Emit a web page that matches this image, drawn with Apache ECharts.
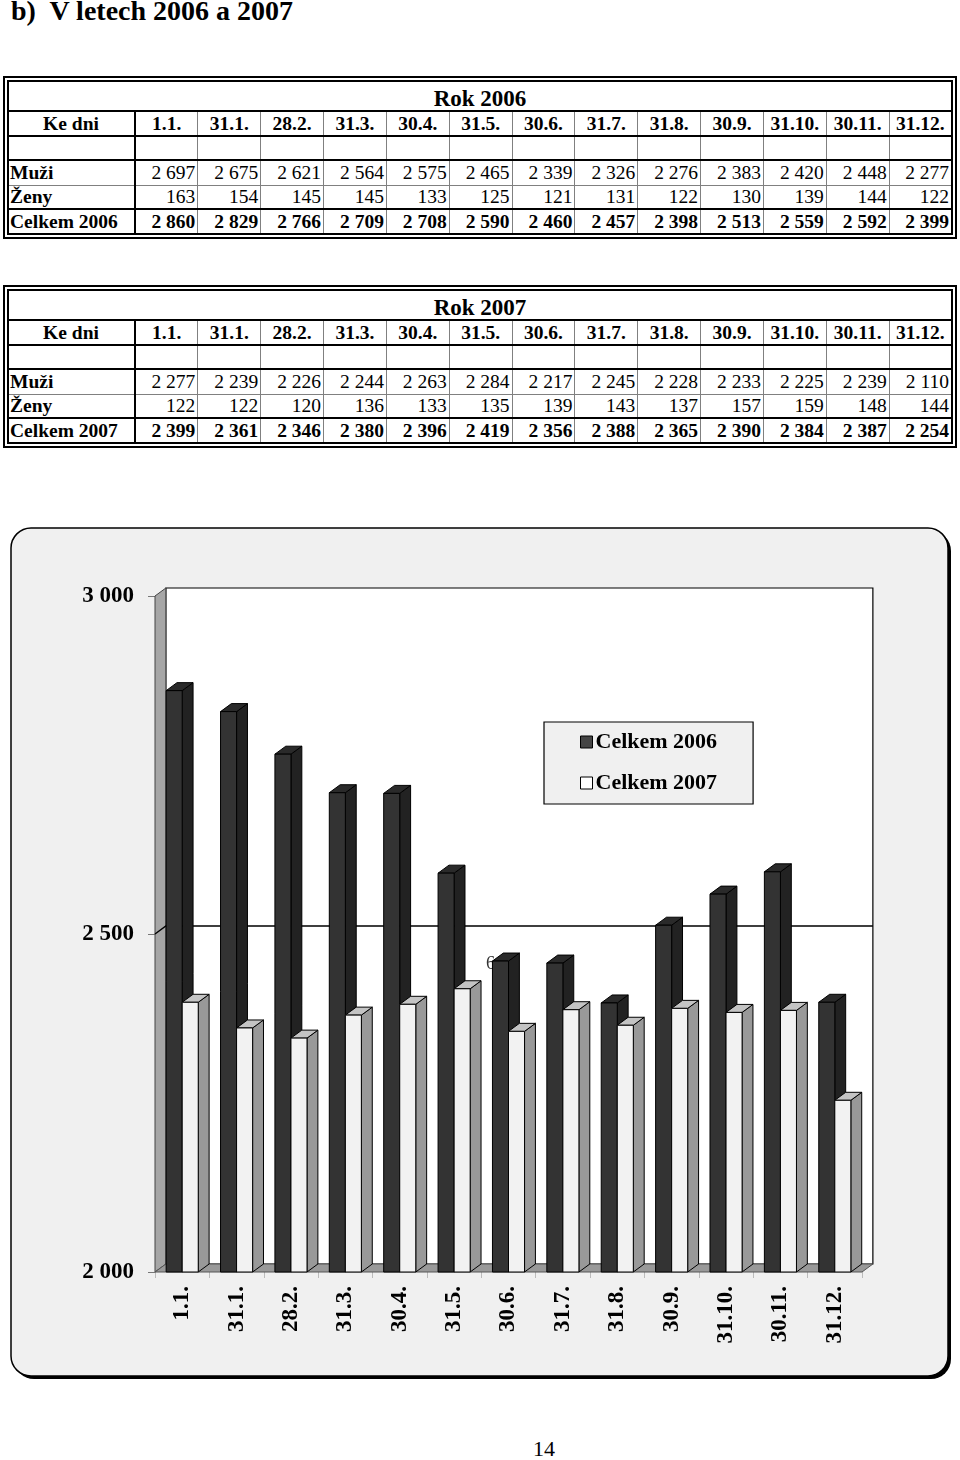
<!DOCTYPE html>
<html>
<head>
<meta charset="utf-8">
<script src="https://cdn.jsdelivr.net/npm/echarts@6/dist/echarts.min.js"></script>
<style>
  html, body { margin: 0; padding: 0; background: #fff; }
  body { width: 960px; height: 1460px; position: relative; overflow: hidden; font-family: "Liberation Serif", "Times New Roman", serif; }
  .heading { position: absolute; left: 11px; top: -5px; font-size: 28px; font-weight: bold; white-space: pre; }
  .wrap { position: absolute; left: 3px; width: 954px; box-sizing: border-box; border: 2px solid #000; padding: 2px; }
  table { border-collapse: collapse; table-layout: fixed; width: 946px; border: 2px solid #000; }
  td { font-size: 19.5px; padding: 0 2px; border: 1px solid #808080; white-space: nowrap; overflow: hidden; text-align: right; line-height: 22px; }
  td.first { border-right: 2px solid #000; text-align: left; font-weight: bold; padding-left: 1px; }
  tr.year td { text-align: center; font-weight: bold; font-size: 23px; border-bottom: 2px solid #000; vertical-align: bottom; }
  tr.dates td { text-align: center; font-weight: bold; border-bottom: 2px solid #000; }
  tr.blank td { border-bottom: 2px solid #000; }
  tr.zeny td { border-bottom: 2px solid #000; }
  tr.total td { font-weight: bold; }
  #chart { position: absolute; left: 0; top: 500px; width: 960px; height: 900px; }
  .page { position: absolute; left: 0; width: 1088px; top: 1436px; text-align: center; font-size: 22px; }
</style>
</head>
<body>
<div class="heading">b)  V letech 2006 a 2007</div>
<div class="wrap" id="t2006" style="top:76px"></div>
<div class="wrap" id="t2007" style="top:285px"></div>
<div id="chart"></div>
<div class="page">14</div>
<script>
// data
const dates = ['1.1.', '31.1.', '28.2.', '31.3.', '30.4.', '31.5.', '30.6.', '31.7.', '31.8.', '30.9.', '31.10.', '30.11.', '31.12.']

const muzi2006 = [2697, 2675, 2621, 2564, 2575, 2465, 2339, 2326, 2276, 2383, 2420, 2448, 2277]
const zeny2006 = [163, 154, 145, 145, 133, 125, 121, 131, 122, 130, 139, 144, 122]
const celkem2006 = [2860, 2829, 2766, 2709, 2708, 2590, 2460, 2457, 2398, 2513, 2559, 2592, 2399]

const muzi2007 = [2277, 2239, 2226, 2244, 2263, 2284, 2217, 2245, 2228, 2233, 2225, 2239, 2110]
const zeny2007 = [122, 122, 120, 136, 133, 135, 139, 143, 137, 157, 159, 148, 144]
const celkem2007 = [2399, 2361, 2346, 2380, 2396, 2419, 2356, 2388, 2365, 2390, 2384, 2387, 2254]

const yTicks = [2000, 2500, 3000]

const fmt = (n) => String(n).replace(/\B(?=(\d{3})+(?!\d))/g, ' ')

// tabulky
const buildTable = (id, year, muzi, zeny, celkem) => {
  let html = '<table><colgroup><col style="width:127px">'
  dates.forEach(() => { html += '<col>' })
  html += '</colgroup>'
  html += '<tr class="year" style="height:30px"><td colspan="14">Rok ' + year + '</td></tr>'
  html += '<tr class="dates" style="height:25px"><td class="first" style="text-align:center">Ke dni</td>'
  dates.forEach((d) => { html += '<td>' + d + '</td>' })
  html += '</tr><tr class="blank" style="height:24px"><td class="first"></td>'
  dates.forEach(() => { html += '<td></td>' })
  html += '</tr>'
  const row = (cls, label, vals, h) => {
    let r = '<tr class="' + cls + '" style="height:' + h + 'px"><td class="first">' + label + '</td>'
    vals.forEach((v) => { r += '<td>' + fmt(v) + '</td>' })
    return r + '</tr>'
  }
  html += row('muzi', 'Muži', muzi, 25)
  html += row('zeny', 'Ženy', zeny, 24)
  html += row('total', 'Celkem ' + year, celkem, 25)
  html += '</table>'
  document.getElementById(id).innerHTML = html
}
buildTable('t2006', 2006, muzi2006, zeny2006, celkem2006)
buildTable('t2007', 2007, muzi2007, zeny2007, celkem2007)

// graf
const chart = echarts.init(document.getElementById('chart'))
const yMin = yTicks[0]
const yMax = yTicks[yTicks.length - 1]
const font = '"Liberation Serif", "Times New Roman", serif'

// hloubka 3D efektu podle sirky kategorie
const depth = (bw) => [bw * 0.2, -bw * 0.147]

const renderWalls = (params, api) => {
  const bw = api.size([1, 0])[0]
  const [dx, dy] = depth(bw)
  const x0 = api.coord([0, yMin])[0] - bw / 2
  const x1 = api.coord([dates.length - 1, yMin])[0] + bw / 2
  const yBot = api.coord([0, yMin])[1]
  const yTop = api.coord([0, yMax])[1]
  const children = [
    {
      type: 'rect',
      shape: { x: x0 + dx, y: yTop + dy, width: x1 - x0, height: yBot - yTop },
      style: { fill: '#fff', stroke: '#000', lineWidth: 1.2 },
    },
    {
      type: 'polygon',
      shape: { points: [[x0, yTop], [x0 + dx, yTop + dy], [x0 + dx, yBot + dy], [x0, yBot]] },
      style: { fill: '#a6a6a6', stroke: '#444', lineWidth: 1 },
    },
    {
      type: 'polygon',
      shape: { points: [[x0, yBot], [x0 + dx, yBot + dy], [x1 + dx, yBot + dy], [x1, yBot]] },
      style: { fill: '#999', stroke: '#555', lineWidth: 1 },
    },
  ]
  yTicks.slice(1, -1).forEach((t) => {
    const y = api.coord([0, t])[1]
    children.push({
      type: 'polyline',
      shape: { points: [[x0, y], [x0 + dx, y + dy], [x1 + dx, y + dy]] },
      style: { stroke: '#000', lineWidth: 1.4, fill: null },
    })
  })
  return { type: 'group', children }
}

const makeBar = (side, colors) => (params, api) => {
  const idx = api.value(0)
  const v = api.value(1)
  const bw = api.size([1, 0])[0]
  const [dx, dy] = depth(bw)
  const base = api.coord([idx, yMin])
  const top = api.coord([idx, v])
  const w = bw * 0.295
  const x0 = side === 0 ? base[0] - w : base[0]
  const x1 = x0 + w
  const y0 = top[1]
  const y1 = base[1]
  const line = { stroke: '#000', lineWidth: 1 }
  return {
    type: 'group',
    children: [
      {
        type: 'polygon',
        shape: { points: [[x1, y0], [x1 + dx, y0 + dy], [x1 + dx, y1 + dy], [x1, y1]] },
        style: Object.assign({ fill: colors.side }, line),
      },
      {
        type: 'polygon',
        shape: { points: [[x0, y0], [x0 + dx, y0 + dy], [x1 + dx, y0 + dy], [x1, y0]] },
        style: Object.assign({ fill: colors.top }, line),
      },
      {
        type: 'rect',
        shape: { x: x0, y: y0, width: w, height: y1 - y0 },
        style: Object.assign({ fill: colors.front }, line),
      },
    ],
  }
}

const option = {
  animation: false,
  graphic: [
    {
      type: 'rect',
      z: 0,
      shape: { x: 14, y: 31, width: 937, height: 848, r: 20 },
      style: { fill: '#000' },
    },
    {
      type: 'rect',
      z: 0,
      shape: { x: 11, y: 28, width: 937, height: 848, r: 20 },
      style: { fill: '#f0f0f0', stroke: '#000', lineWidth: 1.5 },
    },
    {
      type: 'text',
      z: 2,
      x: 486,
      y: 455,
      style: { text: '6', font: '18px "Liberation Serif"', fill: '#333' },
    },
  ],
  legend: {
    left: 544,
    top: 222,
    orient: 'vertical',
    backgroundColor: '#f0f0f0',
    borderColor: '#000',
    borderWidth: 1.2,
    borderRadius: 0,
    padding: [9, 36, 10, 36],
    itemGap: 19,
    itemWidth: 12,
    itemHeight: 12,
    icon: 'rect',
    textStyle: { fontFamily: font, fontWeight: 'bold', fontSize: 22, color: '#000', padding: [0, 0, 0, -2] },
    data: [
      { name: 'Celkem 2006', itemStyle: { color: '#444', borderColor: '#000', borderWidth: 1 } },
      { name: 'Celkem 2007', itemStyle: { color: '#fff', borderColor: '#000', borderWidth: 1 } },
    ],
  },
  grid: { left: 155, top: 96, width: 707, height: 676 },
  xAxis: {
    type: 'category',
    data: dates,
    boundaryGap: true,
    axisLine: { show: false },
    axisTick: { show: true, length: 6, lineStyle: { color: '#bbb' } },
    axisLabel: { rotate: 90, margin: 14, fontFamily: font, fontWeight: 'bold', fontSize: 23, color: '#000' },
  },
  yAxis: {
    type: 'value',
    min: yMin,
    max: yMax,
    interval: 500,
    axisLine: { show: false },
    axisTick: { show: true, length: 7, lineStyle: { color: '#777' } },
    splitLine: { show: false },
    axisLabel: { margin: 21, fontFamily: font, fontWeight: 'bold', fontSize: 23, color: '#000', formatter: fmt },
  },
  series: [
    {
      type: 'custom',
      z: 1,
      silent: true,
      renderItem: renderWalls,
      data: [[0, yMin]],
    },
    {
      name: 'Celkem 2006',
      type: 'custom',
      z: 3,
      itemStyle: { color: '#444' },
      renderItem: makeBar(0, { front: '#333', side: '#222', top: '#2a2a2a' }),
      data: celkem2006.map((v, i) => [i, v]),
    },
    {
      name: 'Celkem 2007',
      type: 'custom',
      z: 3,
      itemStyle: { color: '#fff' },
      renderItem: makeBar(1, { front: '#f2f2f2', side: '#999', top: '#c4c4c4' }),
      data: celkem2007.map((v, i) => [i, v]),
    },
  ],
}

chart.setOption(option)
</script>
</body>
</html>
